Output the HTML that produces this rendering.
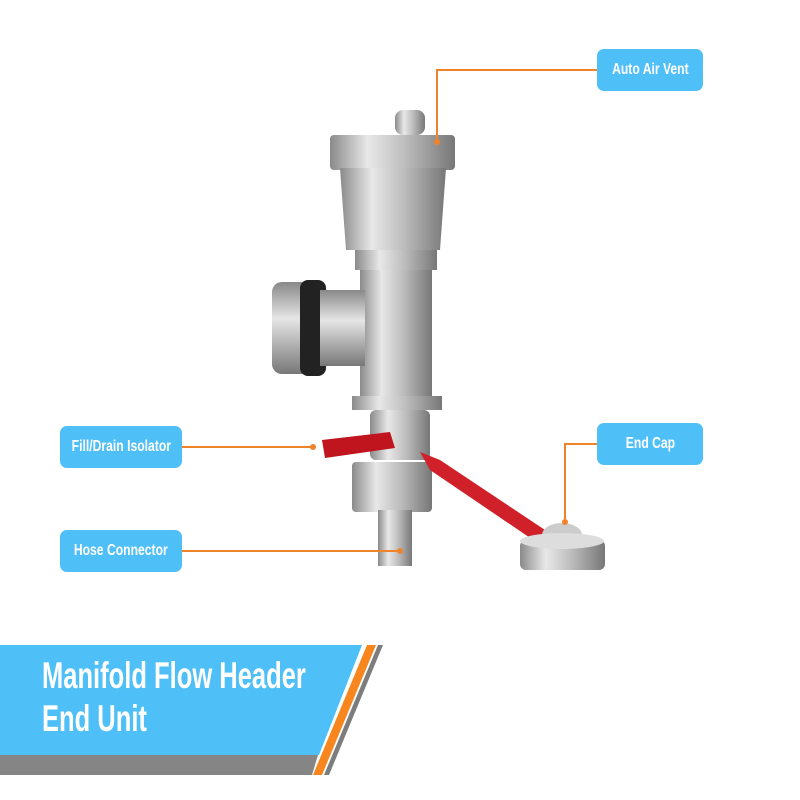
<!DOCTYPE html>
<html><head><style>
body{margin:0;width:800px;height:800px;background:#fff;position:relative;overflow:hidden;font-family:"Liberation Sans",sans-serif;}
.lb{position:absolute;background:#4fbff7;color:#fff;border-radius:7px;font-weight:bold;font-size:16px;display:flex;align-items:center;justify-content:center;}
.lb span{display:inline-block;transform:scaleX(0.76);white-space:nowrap}
</style></head><body>
<svg width="800" height="800" style="position:absolute;left:0;top:0">
<defs>
<linearGradient id="m" x1="0" x2="1"><stop offset="0" stop-color="#8a8a8a"/><stop offset=".3" stop-color="#e8e8e8"/><stop offset=".6" stop-color="#bdbdbd"/><stop offset="1" stop-color="#777"/></linearGradient>
<linearGradient id="mv" x1="0" y1="0" x2="0" y2="1"><stop offset="0" stop-color="#888"/><stop offset=".4" stop-color="#e6e6e6"/><stop offset="1" stop-color="#777"/></linearGradient>
</defs>
<rect x="395" y="110" width="30" height="25" rx="8" fill="url(#m)"/>
<rect x="330" y="135" width="125" height="35" rx="4" fill="url(#m)"/>
<path d="M340 168 H446 L440 250 H346 Z" fill="url(#m)"/>
<rect x="355" y="250" width="82" height="20" fill="url(#m)"/>
<rect x="360" y="270" width="72" height="130" fill="url(#m)"/>
<rect x="272" y="282" width="50" height="92" rx="10" fill="url(#mv)"/>
<rect x="300" y="280" width="26" height="96" rx="8" fill="#222"/>
<rect x="320" y="290" width="45" height="76" fill="url(#mv)"/>
<rect x="352" y="396" width="90" height="14" fill="url(#m)"/>
<rect x="370" y="410" width="60" height="50" rx="6" fill="url(#m)"/>
<rect x="352" y="462" width="80" height="50" rx="4" fill="url(#m)"/>
<rect x="378" y="510" width="34" height="56" fill="url(#m)"/>
<path d="M322 440 L390 432 L395 448 L325 458 Z" fill="#c0141e"/>
<path d="M420 452 L440 460 L560 540 L545 548 L430 470 Z" fill="#d0202a"/>
<ellipse cx="562" cy="535" rx="20" ry="12" fill="#ccc"/>
<rect x="520" y="540" width="85" height="30" rx="6" fill="url(#m)"/>
<ellipse cx="562" cy="541" rx="42" ry="8" fill="#ddd"/>
<g stroke="#f0822a" stroke-width="2" fill="none">
<polyline points="597,70 437,70 437,140"/>
<line x1="182" y1="447" x2="313" y2="447"/>
<line x1="182" y1="551" x2="400" y2="551"/>
<polyline points="597,444 565,444 565,520"/>
</g>
<g fill="#f0822a"><circle cx="437" cy="142" r="3"/><circle cx="313" cy="447" r="3"/><circle cx="400" cy="551" r="3"/><circle cx="565" cy="522" r="3"/></g>
<polygon points="0,755 318,755 312,775 0,775" fill="#858585"/>
<polygon points="0,645 362,645 319,755 0,755" fill="#4fbff7"/>
<polygon points="367,645 376,645 322,775 313,775" fill="#f7861e"/>
<polygon points="378,645 383,645 329,775 324,775" fill="#7d7d7d"/>
</svg>
<div class="lb" style="left:597px;top:49px;width:106px;height:42px"><span>Auto Air Vent</span></div>
<div class="lb" style="left:60px;top:426px;width:122px;height:42px"><span>Fill/Drain Isolator</span></div>
<div class="lb" style="left:60px;top:530px;width:122px;height:42px"><span>Hose Connector</span></div>
<div class="lb" style="left:597px;top:423px;width:106px;height:42px"><span>End Cap</span></div>
<div style="position:absolute;left:42px;top:654px;color:#fff;font-weight:bold;font-size:37px;line-height:43px;white-space:nowrap;transform:scaleX(0.69);transform-origin:0 0">Manifold Flow Header<br>End Unit</div>
</body></html>
